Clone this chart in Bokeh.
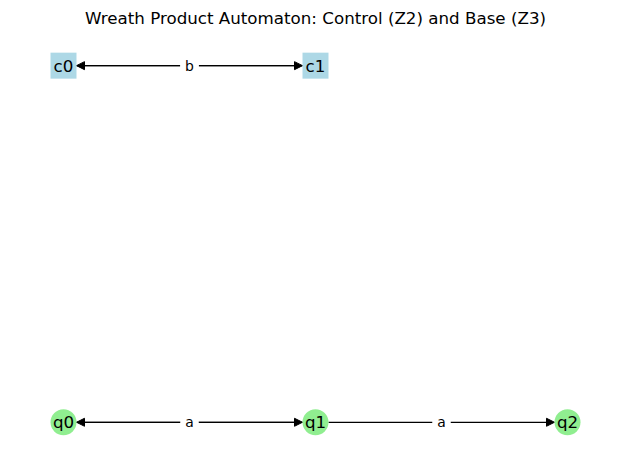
from bokeh.plotting import figure
from bokeh.models import ColumnDataSource, Range1d, Arrow, NormalHead
from bokeh.core.properties import value
from bokeh.embed import file_html
from bokeh.resources import INLINE

# graph layout (like networkx pos)
node_names = ["c0", "c1", "q0", "q1", "q2"]
node_x = [0, 1, 0, 1, 2]
node_y = [1, 1, 0, 0, 0]
node_kind = ["control", "control", "base", "base", "base"]

edge_src = ["c0", "c1", "q0", "q1", "q1"]
edge_dst = ["c1", "c0", "q1", "q0", "q2"]
edge_label = ["b", "b", "a", "a", "a"]

title_text = "Wreath Product Automaton: Control (Z2) and Base (Z3)"

def main():
    W, H = 630, 470
    px_x, px_y = 252.0, 355.0   # pixels per layout unit
    node_px = 13.0              # half size of a node in pixels

    p = figure(width=W, height=H, output_backend="svg", toolbar_location=None,
               title=title_text,
               x_range=Range1d(-63 / px_x, (W - 63) / px_x),
               y_range=Range1d(-48 / px_y, 388 / px_y),
               min_border=0)
    p.title.align = "center"
    p.title.text_font = "DejaVu Sans"
    p.title.text_font_style = "normal"
    p.title.text_font_size = "16.7px"
    p.title.text_color = "black"
    p.axis.visible = False
    p.grid.visible = False
    p.outline_line_color = None

    pos = {n: (x, y) for n, x, y in zip(node_names, node_x, node_y)}

    # edges, shortened to the node edge
    xs, ys, xe, ye = [], [], [], []
    for s, d in zip(edge_src, edge_dst):
        (x0, y0), (x1, y1) = pos[s], pos[d]
        dx, dy = (x1 - x0) * px_x, (y1 - y0) * px_y
        L = (dx * dx + dy * dy) ** 0.5
        ux, uy = dx / L * node_px / px_x, dy / L * node_px / px_y
        xs.append(x0 + ux); ys.append(y0 + uy)
        xe.append(x1 - ux); ye.append(y1 - uy)
    esrc = ColumnDataSource(dict(xs=xs, ys=ys, xe=xe, ye=ye))
    p.add_layout(Arrow(x_start="xs", y_start="ys", x_end="xe", y_end="ye",
                       source=esrc, line_color="black", line_width=1.2,
                       level="underlay",
                       end=NormalHead(size=8, fill_color="black",
                                      line_color="black", line_width=1)))

    # edge labels, one per node pair
    seen = set()
    lx, ly, lt = [], [], []
    for s, d, t in zip(edge_src, edge_dst, edge_label):
        key = frozenset((s, d))
        if key in seen:
            continue
        seen.add(key)
        lx.append((pos[s][0] + pos[d][0]) / 2)
        ly.append((pos[s][1] + pos[d][1]) / 2)
        lt.append(t)
    p.text(x=lx, y=ly, text=lt, text_align="center", text_baseline="middle",
           text_font=value("DejaVu Sans"), text_font_size="13.9px",
           text_color="black", background_fill_color="white", padding=5,
           level="overlay")

    # nodes
    cx = [x for x, k in zip(node_x, node_kind) if k == "control"]
    cy = [y for y, k in zip(node_y, node_kind) if k == "control"]
    bx = [x for x, k in zip(node_x, node_kind) if k == "base"]
    by = [y for y, k in zip(node_y, node_kind) if k == "base"]
    p.scatter(cx, cy, marker="square", size=26, fill_color="#add8e6", line_color=None,
              level="overlay")
    p.scatter(bx, by, marker="circle", size=26, fill_color="#90ee90", line_color=None,
              level="overlay")
    p.text(x=node_x, y=node_y, text=node_names, text_align="center",
           text_baseline="middle", text_font=value("DejaVu Sans"),
           text_font_size="16.7px", text_color="black", level="overlay")

    open("out.html", "w").write(file_html(p, INLINE))

if __name__ == '__main__':
    main()
